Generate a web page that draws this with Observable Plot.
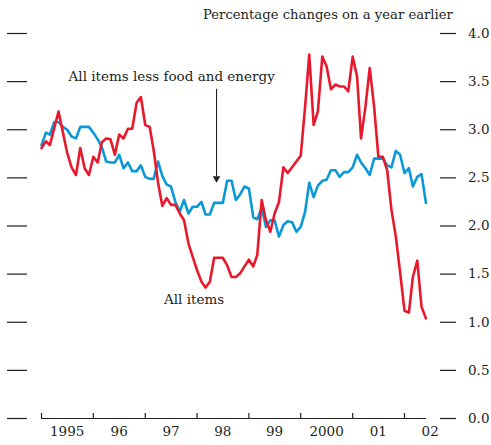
<!DOCTYPE html>
<html><head><meta charset="utf-8">
<script src="https://cdn.jsdelivr.net/npm/d3@7"></script>
<script src="https://cdn.jsdelivr.net/npm/@observablehq/plot@0.6"></script>
<style>
body{margin:0;background:#fff;}
#wrap{position:relative;width:491px;height:445px;}
#title{position:absolute;left:203px;top:7px;font-family:"DejaVu Serif";font-size:13.2px;color:#231f20;white-space:nowrap;}
</style></head><body>
<div id="wrap"><div id="title">Percentage changes on a year earlier</div></div>
<script>
// Monthly, Jan 1995 – Jun 2002
const firstMonth = "1995-01-01";
const lastMonth = "2002-06-01";
const allItems = [
 2.81,2.88,2.84,3.02,3.19,2.97,2.76,2.61,2.53,2.81,2.60,2.53,
 2.72,2.66,2.87,2.91,2.90,2.74,2.95,2.91,3.01,3.01,3.28,3.34,
 3.05,3.03,2.79,2.45,2.21,2.29,2.22,2.22,2.13,2.06,1.82,1.68,
 1.54,1.42,1.36,1.42,1.67,1.67,1.67,1.59,1.47,1.47,1.51,1.58,
 1.65,1.58,1.70,2.27,2.06,1.94,2.13,2.25,2.61,2.55,2.61,2.67,
 2.73,3.24,3.78,3.05,3.19,3.76,3.66,3.42,3.47,3.45,3.45,3.40,
 3.76,3.55,2.91,3.24,3.64,3.24,2.72,2.72,2.58,2.17,1.89,1.52,
 1.12,1.10,1.47,1.64,1.16,1.04
];
const lessFoodEnergy = [
 2.84,2.97,2.95,3.08,3.08,3.03,3.00,2.93,2.91,3.03,3.03,3.03,
 2.97,2.90,2.82,2.67,2.66,2.66,2.74,2.60,2.66,2.57,2.57,2.63,
 2.51,2.49,2.49,2.67,2.52,2.43,2.41,2.25,2.15,2.27,2.13,2.20,
 2.20,2.25,2.12,2.12,2.24,2.24,2.24,2.47,2.47,2.27,2.33,2.41,
 2.39,2.09,2.07,2.19,1.99,2.06,2.06,1.89,2.01,2.05,2.04,1.94,
 1.99,2.15,2.45,2.30,2.42,2.47,2.48,2.58,2.58,2.51,2.56,2.56,
 2.61,2.74,2.66,2.60,2.53,2.70,2.70,2.70,2.63,2.61,2.78,2.74,
 2.55,2.60,2.41,2.51,2.54,2.24
];
const yTicks = [0, 0.5, 1, 1.5, 2, 2.5, 3, 3.5, 4];
const yearStarts = [1995, 1996, 1997, 1998, 1999, 2000, 2001, 2002];
const yearLabels = ["1995", "96", "97", "98", "99", "2000", "01", "02"];
const seriesNames = ["All items", "All items less food and energy"];
const seriesColors = ["#e8192c", "#0a98d6"];
const annotations = [
  {text: "All items less food and energy", date: "1997-07-06", value: 3.55},
  {text: "All items", date: "1997-12-11", value: 1.23}
];
const arrowSpec = {date: "1998-05-18", from: 3.42, to: 2.45};

const months = d3.utcMonth.range(new Date(firstMonth), d3.utcMonth.offset(new Date(lastMonth), 1));
const rows = [];
months.forEach((d, i) => {
  rows.push({date: d, value: allItems[i], series: seriesNames[0]});
  rows.push({date: d, value: lessFoodEnergy[i], series: seriesNames[1]});
});
const yearDates = yearStarts.map(y => new Date(Date.UTC(y, 0, 1)));
const midYears = yearStarts.map(y => new Date(Date.UTC(y, 6, 1)));
const ink = "#231f20";

const chart = Plot.plot({
  width: 491, height: 445,
  marginLeft: 41, marginRight: 65, marginTop: 33, marginBottom: 27,
  x: {type: "utc", domain: [new Date("1995-01-01"), new Date("2002-06-05")], axis: null},
  y: {domain: [0, 4], axis: null},
  color: {domain: seriesNames, range: seriesColors},
  style: {fontFamily: "DejaVu Serif", fontSize: "13.5px", color: ink, background: "white", overflow: "visible"},
  marks: [
    Plot.axisY(yTicks, {anchor: "right", tickSize: 16, dx: 13, tickPadding: 12.5, tickFormat: d => d.toFixed(1), stroke: ink, strokeWidth: 1.2, strokeOpacity: 1}),
    Plot.axisY(yTicks, {anchor: "left", tickSize: 20, dx: -14, tickFormat: () => "", stroke: ink, strokeWidth: 1.2, strokeOpacity: 1}),
    Plot.ruleY([0], {stroke: ink, strokeWidth: 1.2}),
    Plot.axisX(yearDates, {anchor: "bottom", tickSize: -5, tickFormat: () => "", stroke: ink, strokeWidth: 1.2, strokeOpacity: 1}),
    Plot.text(midYears, {x: d => d, frameAnchor: "bottom", dy: 17, text: (d, i) => yearLabels[i], fill: ink}),
    Plot.line(rows.filter(r => r.series === seriesNames[1]), {x: "date", y: "value", stroke: "series", strokeWidth: 2.6}),
    Plot.line(rows.filter(r => r.series === seriesNames[0]), {x: "date", y: "value", stroke: "series", strokeWidth: 2.6}),
    Plot.ruleX([arrowSpec], {x: d => new Date(d.date), y1: "from", y2: "to", stroke: ink, strokeWidth: 1.1, insetBottom: 6}),
    Plot.dot([arrowSpec], {x: d => new Date(d.date), y: "to", symbol: "triangle", rotate: 180, r: 2.8, fill: ink, stroke: "none", dy: -4.3}),
    Plot.text(annotations, {x: d => new Date(d.date), y: "value", text: "text", fill: ink})
  ]
});
document.getElementById("wrap").prepend(chart);
</script>
</body></html>
